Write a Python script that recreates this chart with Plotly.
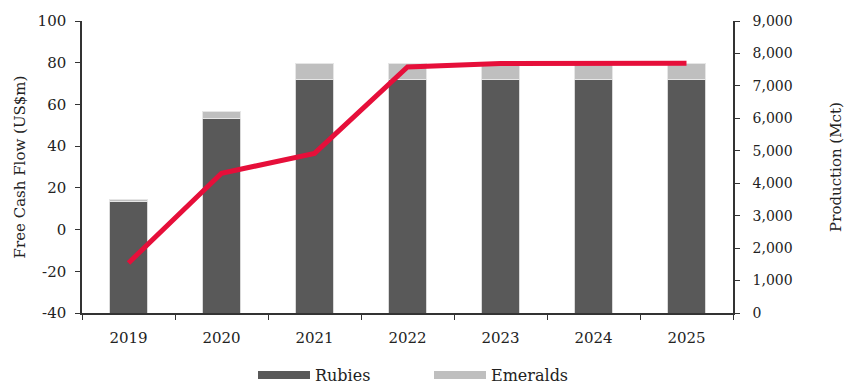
import plotly.graph_objects as go

years = ["2019", "2020", "2021", "2022", "2023", "2024", "2025"]
rubies = [3450, 6000, 7200, 7200, 7200, 7200, 7200]
emeralds = [60, 225, 500, 500, 500, 500, 500]
fcf = [-16, 27, 36.5, 78, 79.6, 79.8, 79.8]

left_ticks = [-40, -20, 0, 20, 40, 60, 80, 100]
left_labels = ["-40", "-20", "0", "20", "40", "60", "80", "100"]
right_ticks = [0, 1000, 2000, 3000, 4000, 5000, 6000, 7000, 8000, 9000]

FONT = "DejaVu Serif"
TXT = "#222222"
AX = "#333333"

fig = go.Figure()
fig.add_trace(go.Bar(x=years, y=rubies, name="Rubies", marker=dict(color="#595959", line=dict(color="#d9d9d9", width=1)), yaxis="y"))
fig.add_trace(go.Bar(x=years, y=emeralds, name="Emeralds", marker=dict(color="#bfbfbf", line=dict(color="#e6e6e6", width=1)), yaxis="y"))
fig.add_trace(go.Scatter(x=years, y=fcf, mode="lines", line=dict(color="#e60f3a", width=5), yaxis="y2", showlegend=False))

fig.update_layout(
    width=845, height=385,
    margin=dict(l=82, r=112, t=21, b=72),
    barmode="stack", bargap=0.6,
    plot_bgcolor="white", paper_bgcolor="white",
    font=dict(family=FONT, size=14, color=TXT),
    showlegend=False,
    xaxis=dict(type="category", showline=True, linecolor=AX, linewidth=1.5,
               ticks="outside", tickson="boundaries", ticklen=5, tickcolor=AX,
               ticklabelstandoff=10, automargin=False,
               tickfont=dict(size=15, color=TXT)),
    yaxis=dict(side="right", range=[0, 9000], tickvals=right_ticks, tickformat=",",
               showline=True, linecolor=AX, linewidth=1.5, ticks="outside", ticklen=5,
               tickcolor=AX, showgrid=False, zeroline=False, ticklabelstandoff=10,
               automargin=False,
               tickfont=dict(size=14, color=TXT),
               title=dict(text="Production (Mct)", font=dict(size=15, color=TXT), standoff=42)),
    yaxis2=dict(side="left", overlaying="y", range=[-40, 100], tickvals=left_ticks,
                ticktext=left_labels, automargin=False,
                showline=True, linecolor=AX, linewidth=1.5, ticks="outside", ticklen=5,
                tickcolor=AX, showgrid=False, zeroline=False, ticklabelstandoff=6,
                tickfont=dict(size=15, color=TXT),
                title=dict(text="Free Cash Flow (US$m)", font=dict(size=15, color=TXT), standoff=8)),
)

# custom legend keys (wide rectangles) below the chart
legend_items = [("Rubies", "#595959", 258), ("Emeralds", "#bfbfbf", 434)]
for label, color, x0 in legend_items:
    fig.add_shape(type="rect", xref="paper", yref="paper",
                  x0=(x0 - 82) / 651, x1=(x0 + 52 - 82) / 651,
                  y0=(313 - 379) / 292, y1=(313 - 371) / 292,
                  fillcolor=color, line=dict(width=0))
    fig.add_annotation(xref="paper", yref="paper", x=(x0 + 55 - 82) / 651, y=(313 - 375) / 292,
                       text=label, showarrow=False, xanchor="left", yanchor="middle",
                       font=dict(size=16, color=TXT, family=FONT))

fig.write_html("out.html")
